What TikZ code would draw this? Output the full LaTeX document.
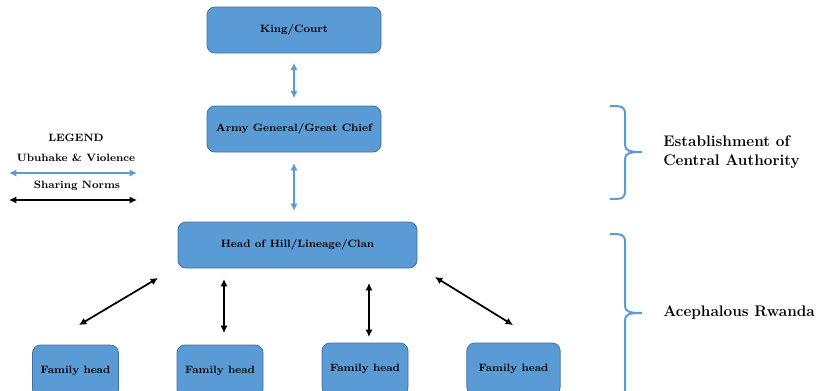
\documentclass[tikz,border=0pt]{standalone}
\usetikzlibrary{arrows.meta}
\definecolor{boxfill}{RGB}{91,155,213}
\definecolor{boxline}{RGB}{65,113,156}
\begin{document}
\begin{tikzpicture}[x=0.75pt,y=-0.75pt,
  box/.style={draw=boxline, fill=boxfill, rounded corners=6pt, line width=0.6pt,
    font=\footnotesize\bfseries, align=center, inner sep=0pt, minimum height=34.5pt},
  fambox/.style={box, minimum height=39pt},
  bluearrow/.style={draw=boxfill, line width=1.5pt, {Latex[length=5.5pt,width=5.5pt]}-{Latex[length=5.5pt,width=5.5pt]}},
  blackarrow/.style={draw=black, line width=1.3pt, {Latex[length=5.5pt,width=5.5pt]}-{Latex[length=5.5pt,width=5.5pt]}},
  bracepath/.style={draw=boxfill, line width=1.5pt},
  legtext/.style={font=\footnotesize\bfseries},
  sidetext/.style={font=\fontsize{11.5}{14.25}\selectfont\bfseries, align=left, anchor=west, inner sep=0pt}]
\useasboundingbox (0,0) rectangle (817,390);

% main boxes
\node[box, minimum width=130.5pt] (king) at (294,30) {King/Court};
\node[box, minimum width=130.5pt] (army) at (294,129) {Army General/Great Chief};
\node[box, minimum width=179.25pt] (head) at (297.5,245) {Head of Hill/Lineage/Clan};
\node[fambox, minimum width=64.5pt] (f1) at (75.5,371) {Family head};
\node[fambox, minimum width=64.5pt] (f2) at (220,371) {Family head};
\node[fambox, minimum width=64.5pt] (f3) at (365,369) {Family head};
\node[fambox, minimum width=70pt] (f4) at (513.5,369) {Family head};

% blue connectors
\draw[bluearrow, shorten <=7pt, shorten >=5.5pt] (king) -- (army);
\draw[bluearrow, shorten <=8pt, shorten >=8pt] (army.south) -- (army.south |- head.north);

% black connectors
\coordinate (a1s) at (158,278); \coordinate (a1e) at (79,325);
\coordinate (a2s) at (224,279); \coordinate (a2e) at (224,333);
\coordinate (a3s) at (369,283); \coordinate (a3e) at (369,337);
\coordinate (a4s) at (435,277); \coordinate (a4e) at (513,325);
\draw[blackarrow] (a1s) -- (a1e);
\draw[blackarrow] (a2s) -- (a2e);
\draw[blackarrow] (a3s) -- (a3e);
\draw[blackarrow] (a4s) -- (a4e);

% legend
\node[legtext] (leg) at (76,138) {LEGEND};
\node[legtext] (legb) at (76,158) {Ubuhake \& Violence};
\coordinate (lb1) at (9,173); \coordinate (lb2) at (137,173);
\draw[bluearrow] (lb1) -- (lb2);
\node[legtext] (legk) at (77,186) {Sharing Norms};
\coordinate (lk1) at (9,200); \coordinate (lk2) at (137,200);
\draw[blackarrow] (lk1) -- (lk2);

% braces
\draw[bracepath] (610,106) .. controls (621,106) and (625,106) .. (625,114) -- (625,145)
  .. controls (625,151) and (630,152) .. (642,152)
  .. controls (630,152) and (625,153) .. (625,159) -- (625,191)
  .. controls (625,199) and (621,199) .. (610,199);
\draw[bracepath] (610,234) .. controls (621,234) and (625,234) .. (625,242) -- (625,306)
  .. controls (625,312) and (630,313) .. (642,313)
  .. controls (630,313) and (625,314) .. (625,320) -- (625,396);

\node[sidetext] (est) at (663,152) {Establishment of\\Central Authority};
\node[sidetext] (ace) at (663,313) {Acephalous Rwanda};
\end{tikzpicture}
\end{document}
